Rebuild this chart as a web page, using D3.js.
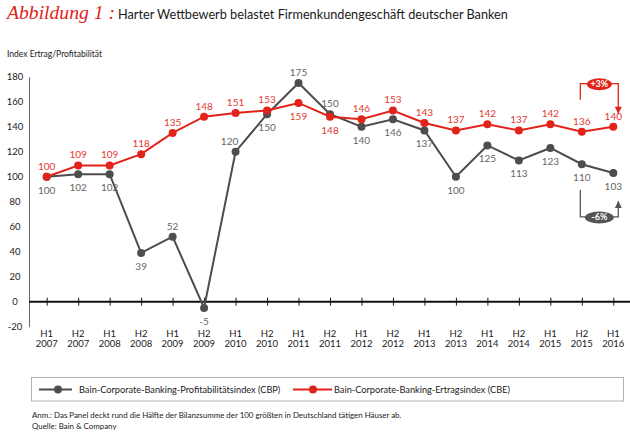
<!DOCTYPE html>
<html>

<head>
    <meta charset="utf-8">
    <style>
        body {
            margin: 0;
            background-color: #ffffff;
            font-family: 'Lato', sans-serif;
        }
    </style>
    <script src="https://d3js.org/d3.v7.min.js"></script>
    <title>Abbildung 1</title>
</head>

<body>
    <svg id="chart" width="630" height="435"></svg>

    <script>
        // data
        var halves = ["H1", "H2", "H1", "H2", "H1", "H2", "H1", "H2", "H1", "H2",
            "H1", "H2", "H1", "H2", "H1", "H2", "H1", "H2", "H1"];
        var years = ["2007", "2007", "2008", "2008", "2009", "2009", "2010", "2010", "2011", "2011",
            "2012", "2012", "2013", "2013", "2014", "2014", "2015", "2015", "2016"];
        var cbp = [100, 102, 102, 39, 52, -5, 120, 150, 175, 150, 140, 146, 137, 100, 125, 113, 123, 110, 103];
        var cbe = [100, 109, 109, 118, 135, 148, 151, 153, 159, 148, 146, 153, 143, 137, 142, 137, 142, 136, 140];
        var yTicks = [180, 160, 140, 120, 100, 80, 60, 40, 20, 0, -20];
        var seriesNames = ["Bain-Corporate-Banking-Profitabilitätsindex (CBP)",
            "Bain-Corporate-Banking-Ertragsindex (CBE)"];
        var changes = ["+3%", "-6%"];

        var red = "#e2231a";
        var grey = "#4d4d4d";
        var font = "Lato, sans-serif";

        var canvas = d3.select("#chart");
        var keys = halves.map(function (h, i) { return h + " " + years[i]; });

        var xScale = d3.scalePoint()
            .domain(keys)
            .range([46.7, 613.3]);
        var yScale = d3.scaleLinear()
            .domain([-20, 180])
            .range([326.7, 76.7]);

        // title
        canvas.append("text")
            .attr("x", 7)
            .attr("y", 19)
            .attr("font-family", "Liberation Serif")
            .attr("font-style", "italic")
            .attr("font-size", "19px")
            .attr("fill", red)
            .attr("textLength", 108)
            .attr("lengthAdjust", "spacingAndGlyphs")
            .text("Abbildung 1 :");
        canvas.append("text")
            .attr("x", 118)
            .attr("y", 19)
            .attr("font-family", font)
            .attr("font-size", "12.7px")
            .attr("fill", "#1a1a1a")
            .text("Harter Wettbewerb belastet Firmenkundengeschäft deutscher Banken");

        canvas.append("text")
            .attr("x", 7)
            .attr("y", 56.5)
            .attr("font-family", font)
            .attr("font-size", "8.5px")
            .attr("fill", "#1a1a1a")
            .text("Index Ertrag/Profitabilität");

        // y axis
        var yAxis = d3.axisLeft(yScale)
            .tickValues(yTicks)
            .tickFormat(function (d) { return String(d); })
            .tickSize(0)
            .tickPadding(0);
        var yG = canvas.append("g")
            .attr("transform", "translate(29,0)")
            .call(yAxis);
        yG.select(".domain")
            .attr("stroke", "#666")
            .attr("stroke-width", 1);
        yG.selectAll("text")
            .attr("x", -14)
            .attr("text-anchor", "middle")
            .style("font-family", font)
            .style("font-size", "9.5px")
            .style("fill", "#1a1a1a");

        // zero line with category ticks
        var xAxis = d3.axisBottom(xScale)
            .tickSizeInner(8)
            .tickSizeOuter(0)
            .tickFormat("");
        var xG = canvas.append("g")
            .attr("transform", "translate(0," + yScale(0) + ")")
            .call(xAxis);
        xG.select(".domain").remove();
        xG.selectAll(".tick line")
            .attr("y1", -4)
            .attr("y2", 4)
            .attr("stroke", "#1a1a1a")
            .attr("stroke-width", 1);
        canvas.append("line")
            .attr("x1", 29)
            .attr("x2", 630)
            .attr("y1", yScale(0))
            .attr("y2", yScale(0))
            .attr("stroke", "#111")
            .attr("stroke-width", 2);

        // category labels
        var cat = canvas.append("g")
            .selectAll("text")
            .data(keys)
            .enter()
            .append("text")
            .attr("text-anchor", "middle")
            .attr("font-family", font)
            .attr("font-size", "9.5px")
            .attr("fill", "#1a1a1a");
        cat.append("tspan")
            .attr("x", function (d) { return xScale(d); })
            .attr("y", 337)
            .text(function (d, i) { return halves[i]; });
        cat.append("tspan")
            .attr("x", function (d) { return xScale(d); })
            .attr("y", 346.5)
            .text(function (d, i) { return years[i]; });

        // lines
        var line = d3.line()
            .x(function (d, i) { return xScale(keys[i]); })
            .y(function (d) { return yScale(d); });

        function drawSeries(values, color) {
            canvas.append("path")
                .datum(values)
                .attr("fill", "none")
                .attr("stroke", color)
                .attr("stroke-width", 2)
                .attr("d", line);
            canvas.append("g")
                .selectAll("circle")
                .data(values)
                .enter()
                .append("circle")
                .attr("cx", function (d, i) { return xScale(keys[i]); })
                .attr("cy", function (d) { return yScale(d); })
                .attr("r", 4)
                .attr("fill", color);
        }
        drawSeries(cbp, grey);
        drawSeries(cbe, red);

        // value labels
        var redBelow = [8, 9];
        var greyAbove = [4, 6, 8, 9];

        canvas.append("g")
            .selectAll("text")
            .data(cbe)
            .enter()
            .append("text")
            .attr("x", function (d, i) { return xScale(keys[i]); })
            .attr("y", function (d, i) {
                return yScale(d) + (redBelow.indexOf(i) >= 0 ? 17 : -7);
            })
            .attr("text-anchor", "middle")
            .attr("font-family", font)
            .attr("font-size", "10px")
            .attr("fill", "#e2392f")
            .text(function (d) { return d; });

        canvas.append("g")
            .selectAll("text")
            .data(cbp)
            .enter()
            .append("text")
            .attr("x", function (d, i) { return xScale(keys[i]) + (i == 6 ? -6 : 0); })
            .attr("y", function (d, i) {
                return yScale(d) + (greyAbove.indexOf(i) >= 0 ? -7 : 17);
            })
            .attr("text-anchor", "middle")
            .attr("font-family", font)
            .attr("font-size", "10px")
            .attr("fill", "#666")
            .text(function (d) { return d; });

        // change brackets
        var last = keys.length - 1;
        var xa = xScale(keys[last - 1]) - 1.5;
        var xb = xScale(keys[last]) + 5;

        function bracket(startY, edgeY, tipY, color, label, w) {
            canvas.append("path")
                .attr("d", "M" + xa + "," + startY + "V" + edgeY + "H" + xb + "V" + tipY)
                .attr("fill", "none")
                .attr("stroke", color)
                .attr("stroke-width", 1.3);
            var dir = tipY > edgeY ? -1 : 1;
            canvas.append("path")
                .attr("d", "M" + (xb - 3.5) + "," + (tipY + dir * 7) + "L" + xb + "," + tipY + "L" + (xb + 3.5) + "," + (tipY + dir * 7) + "Z")
                .attr("fill", color);
            canvas.append("ellipse")
                .attr("cx", (xa + xb) / 2)
                .attr("cy", edgeY + 0.5)
                .attr("rx", w / 2)
                .attr("ry", 6)
                .attr("fill", color);
            canvas.append("text")
                .attr("x", (xa + xb) / 2)
                .attr("y", edgeY + 3.5)
                .attr("text-anchor", "middle")
                .attr("font-family", font)
                .attr("font-weight", "bold")
                .attr("font-size", "9px")
                .attr("fill", "#fff")
                .text(label);
        }
        bracket(yScale(cbe[last]) - 27, yScale(cbe[last]) - 43, yScale(cbe[last]) - 13, red, changes[0], 25);
        bracket(yScale(cbp[last]) + 17, yScale(cbp[last]) + 44, yScale(cbp[last]) + 28, "#555", changes[1], 29);

        // legend
        canvas.append("rect")
            .attr("x", 31.5)
            .attr("y", 377.5)
            .attr("width", 592)
            .attr("height", 23.5)
            .attr("fill", "none")
            .attr("stroke", "#b3b3b3")
            .attr("stroke-width", 1);

        var legendX = [[39, 72, 58, 79], [293, 332, 313, 334]];
        var legendColors = [grey, red];
        seriesNames.forEach(function (name, i) {
            var lx = legendX[i];
            canvas.append("line")
                .attr("x1", lx[0])
                .attr("x2", lx[1])
                .attr("y1", 389.5)
                .attr("y2", 389.5)
                .attr("stroke", legendColors[i])
                .attr("stroke-width", 2);
            canvas.append("circle")
                .attr("cx", lx[2])
                .attr("cy", 389.5)
                .attr("r", 4)
                .attr("fill", legendColors[i]);
            canvas.append("text")
                .attr("x", lx[3])
                .attr("y", 392.7)
                .attr("font-family", font)
                .attr("font-size", "9.2px")
                .attr("fill", "#1a1a1a")
                .text(name);
        });

        // notes
        canvas.append("text")
            .attr("x", 32)
            .attr("y", 418)
            .attr("font-family", font)
            .attr("font-size", "7.9px")
            .attr("fill", "#1a1a1a")
            .text("Anm.: Das Panel deckt rund die Hälfte der Bilanzsumme der 100 größten in Deutschland tätigen Häuser ab.");
        canvas.append("text")
            .attr("x", 32)
            .attr("y", 429)
            .attr("font-family", font)
            .attr("font-size", "7.9px")
            .attr("fill", "#1a1a1a")
            .text("Quelle: Bain & Company");
    </script>
</body>
</html>
